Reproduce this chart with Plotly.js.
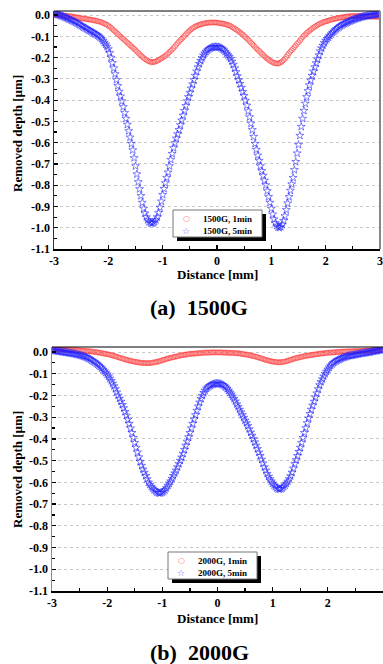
<!DOCTYPE html>
<html><head><meta charset="utf-8">
<script src="https://cdn.plot.ly/plotly-3.0.1.min.js"></script>
<style>html,body{margin:0;padding:0;background:#fff;}#chart{width:383px;height:664px;}</style>
</head><body><div id="chart"></div>
<script>
// Distance sampled from -3 mm to 3 mm in 0.025 mm steps (x0/dx of the traces)
const distStart = -3;
const distStep = 0.025;

const g1500_1min = [
0.000,0.000,0.000,-0.001,-0.001,-0.002,-0.002,-0.003,-0.003,-0.004,-0.005,-0.005,-0.006,-0.007,-0.008,-0.009,-0.010,-0.011,-0.012,-0.014,-0.015,-0.016,-0.017,-0.018,-0.019,-0.020,-0.021,-0.022,-0.023,-0.024,-0.026,-0.027,-0.029,-0.030,-0.032,-0.034,-0.037,-0.040,-0.043,-0.046,-0.050,
-0.055,-0.060,-0.066,-0.072,-0.077,-0.083,-0.089,-0.095,-0.101,-0.107,-0.112,-0.118,-0.124,-0.130,-0.136,-0.142,-0.147,-0.153,-0.159,-0.165,-0.172,-0.178,-0.184,-0.190,-0.196,-0.202,-0.207,-0.211,-0.215,-0.218,-0.220,-0.222,-0.221,-0.220,-0.218,-0.215,-0.212,-0.208,-0.204,-0.200,
-0.196,-0.192,-0.186,-0.180,-0.174,-0.168,-0.162,-0.155,-0.148,-0.140,-0.132,-0.125,-0.118,-0.112,-0.105,-0.098,-0.091,-0.085,-0.078,-0.072,-0.067,-0.062,-0.058,-0.054,-0.051,-0.048,-0.046,-0.044,-0.042,-0.040,-0.039,-0.038,-0.037,-0.036,-0.035,-0.035,-0.035,-0.035,-0.035,-0.036,
-0.037,-0.038,-0.039,-0.040,-0.041,-0.043,-0.045,-0.047,-0.049,-0.052,-0.056,-0.060,-0.064,-0.068,-0.072,-0.077,-0.082,-0.087,-0.092,-0.098,-0.104,-0.110,-0.116,-0.123,-0.130,-0.137,-0.143,-0.150,-0.157,-0.163,-0.169,-0.175,-0.182,-0.188,-0.194,-0.200,-0.205,-0.210,-0.215,-0.219,
-0.222,-0.225,-0.227,-0.228,-0.228,-0.226,-0.222,-0.218,-0.212,-0.205,-0.197,-0.188,-0.180,-0.172,-0.165,-0.158,-0.150,-0.143,-0.135,-0.128,-0.120,-0.112,-0.104,-0.097,-0.091,-0.085,-0.079,-0.074,-0.069,-0.064,-0.059,-0.055,-0.051,-0.047,-0.043,-0.040,-0.037,-0.034,-0.032,-0.030,
-0.028,-0.026,-0.024,-0.022,-0.020,-0.019,-0.017,-0.016,-0.014,-0.013,-0.012,-0.011,-0.010,-0.009,-0.008,-0.007,-0.006,-0.006,-0.005,-0.005,-0.005,-0.005,-0.005,-0.005,-0.005,-0.005,-0.005,-0.006,-0.006,-0.006,-0.006,-0.007,-0.007,-0.007,-0.007,-0.008,-0.008,-0.008,-0.008,-0.008];

const g1500_5min = [
0.008,0.007,0.005,0.003,0.000,-0.003,-0.005,-0.008,-0.010,-0.013,-0.016,-0.019,-0.022,-0.025,-0.028,-0.031,-0.035,-0.038,-0.042,-0.046,-0.050,-0.054,-0.058,-0.061,-0.065,-0.069,-0.073,-0.076,-0.080,-0.084,-0.088,-0.091,-0.095,-0.100,-0.105,-0.112,-0.120,-0.129,-0.138,-0.148,-0.160,
-0.178,-0.200,-0.225,-0.250,-0.277,-0.305,-0.333,-0.360,-0.382,-0.405,-0.432,-0.460,-0.487,-0.515,-0.545,-0.575,-0.605,-0.635,-0.672,-0.710,-0.748,-0.785,-0.818,-0.850,-0.882,-0.910,-0.932,-0.950,-0.963,-0.972,-0.977,-0.980,-0.977,-0.972,-0.963,-0.950,-0.930,-0.905,-0.876,-0.845,
-0.817,-0.790,-0.765,-0.740,-0.710,-0.680,-0.652,-0.625,-0.602,-0.580,-0.560,-0.540,-0.517,-0.495,-0.472,-0.450,-0.427,-0.405,-0.385,-0.365,-0.345,-0.325,-0.305,-0.285,-0.265,-0.245,-0.229,-0.215,-0.202,-0.190,-0.180,-0.172,-0.165,-0.160,-0.156,-0.153,-0.151,-0.150,-0.150,-0.150,
-0.151,-0.152,-0.155,-0.160,-0.165,-0.172,-0.180,-0.188,-0.196,-0.205,-0.218,-0.233,-0.250,-0.268,-0.287,-0.305,-0.323,-0.342,-0.361,-0.380,-0.402,-0.425,-0.452,-0.480,-0.510,-0.540,-0.572,-0.605,-0.633,-0.660,-0.685,-0.710,-0.733,-0.755,-0.778,-0.800,-0.827,-0.855,-0.882,-0.910,
-0.937,-0.960,-0.978,-0.990,-0.997,-1.000,-0.995,-0.985,-0.967,-0.945,-0.916,-0.885,-0.855,-0.825,-0.795,-0.765,-0.728,-0.690,-0.650,-0.610,-0.567,-0.525,-0.487,-0.450,-0.416,-0.385,-0.357,-0.330,-0.307,-0.285,-0.265,-0.245,-0.226,-0.208,-0.189,-0.170,-0.156,-0.143,-0.131,-0.120,
-0.112,-0.105,-0.097,-0.090,-0.083,-0.077,-0.071,-0.065,-0.060,-0.055,-0.051,-0.047,-0.043,-0.040,-0.037,-0.034,-0.031,-0.028,-0.025,-0.023,-0.020,-0.018,-0.016,-0.014,-0.012,-0.010,-0.008,-0.007,-0.005,-0.004,-0.003,-0.002,-0.001,0.000,0.001,0.002,0.003,0.004,0.005,0.005];

const g2000_1min = [
0.012,0.012,0.012,0.012,0.012,0.012,0.011,0.011,0.011,0.011,0.010,0.010,0.010,0.009,0.009,0.009,0.008,0.008,0.008,0.007,0.007,0.006,0.006,0.005,0.005,0.004,0.004,0.003,0.003,0.002,0.001,0.000,-0.001,-0.002,-0.003,-0.004,-0.005,-0.006,-0.008,-0.009,-0.010,
-0.011,-0.013,-0.014,-0.016,-0.018,-0.020,-0.022,-0.024,-0.026,-0.028,-0.030,-0.032,-0.034,-0.036,-0.038,-0.039,-0.041,-0.042,-0.044,-0.045,-0.046,-0.047,-0.048,-0.049,-0.050,-0.050,-0.051,-0.051,-0.051,-0.051,-0.051,-0.050,-0.049,-0.048,-0.047,-0.045,-0.044,-0.042,-0.040,-0.038,
-0.036,-0.034,-0.032,-0.030,-0.028,-0.027,-0.025,-0.024,-0.022,-0.021,-0.019,-0.018,-0.016,-0.015,-0.014,-0.013,-0.012,-0.011,-0.010,-0.009,-0.008,-0.008,-0.007,-0.007,-0.006,-0.006,-0.005,-0.005,-0.004,-0.004,-0.003,-0.003,-0.003,-0.003,-0.002,-0.002,-0.002,-0.002,-0.002,-0.002,
-0.002,-0.002,-0.002,-0.003,-0.003,-0.003,-0.003,-0.004,-0.004,-0.004,-0.004,-0.005,-0.005,-0.006,-0.006,-0.007,-0.008,-0.009,-0.010,-0.011,-0.012,-0.013,-0.014,-0.016,-0.017,-0.019,-0.020,-0.022,-0.024,-0.026,-0.028,-0.030,-0.032,-0.034,-0.036,-0.038,-0.040,-0.041,-0.043,-0.044,
-0.045,-0.046,-0.047,-0.047,-0.047,-0.047,-0.046,-0.045,-0.044,-0.042,-0.040,-0.038,-0.036,-0.034,-0.032,-0.030,-0.028,-0.027,-0.025,-0.024,-0.022,-0.021,-0.019,-0.018,-0.017,-0.016,-0.015,-0.014,-0.013,-0.012,-0.011,-0.010,-0.009,-0.008,-0.007,-0.007,-0.006,-0.005,-0.004,-0.004,
-0.003,-0.003,-0.002,-0.002,-0.001,-0.001,0.000,0.000,0.001,0.001,0.002,0.002,0.002,0.002,0.003,0.003,0.003,0.003,0.004,0.004,0.004,0.004,0.005,0.005,0.005,0.005,0.006,0.006,0.006,0.006,0.007,0.007,0.007,0.008,0.008,0.008,0.009,0.009,0.010,0.010];

const g2000_5min = [
0.008,0.007,0.006,0.005,0.004,0.003,0.002,0.001,0.000,-0.001,-0.002,-0.003,-0.004,-0.005,-0.006,-0.007,-0.008,-0.010,-0.011,-0.013,-0.014,-0.016,-0.018,-0.020,-0.022,-0.025,-0.028,-0.031,-0.035,-0.039,-0.043,-0.047,-0.052,-0.057,-0.062,-0.068,-0.074,-0.081,-0.088,-0.095,-0.103,
-0.112,-0.122,-0.133,-0.145,-0.157,-0.170,-0.185,-0.200,-0.214,-0.228,-0.243,-0.258,-0.275,-0.292,-0.311,-0.330,-0.351,-0.372,-0.395,-0.418,-0.440,-0.462,-0.484,-0.505,-0.523,-0.540,-0.555,-0.570,-0.585,-0.600,-0.610,-0.620,-0.628,-0.635,-0.640,-0.645,-0.648,-0.650,-0.648,-0.645,
-0.641,-0.635,-0.626,-0.615,-0.605,-0.595,-0.583,-0.570,-0.558,-0.545,-0.530,-0.515,-0.500,-0.485,-0.468,-0.450,-0.431,-0.412,-0.392,-0.372,-0.351,-0.330,-0.310,-0.290,-0.270,-0.250,-0.232,-0.215,-0.201,-0.188,-0.177,-0.168,-0.162,-0.157,-0.153,-0.150,-0.148,-0.146,-0.145,-0.145,
-0.146,-0.147,-0.149,-0.152,-0.157,-0.162,-0.169,-0.177,-0.186,-0.195,-0.205,-0.215,-0.227,-0.240,-0.252,-0.265,-0.277,-0.290,-0.302,-0.315,-0.327,-0.340,-0.355,-0.370,-0.385,-0.400,-0.415,-0.430,-0.446,-0.462,-0.478,-0.495,-0.512,-0.530,-0.545,-0.560,-0.573,-0.585,-0.595,-0.605,
-0.613,-0.620,-0.626,-0.630,-0.631,-0.630,-0.626,-0.620,-0.613,-0.605,-0.596,-0.585,-0.571,-0.555,-0.536,-0.515,-0.497,-0.478,-0.459,-0.440,-0.418,-0.395,-0.372,-0.350,-0.327,-0.305,-0.285,-0.265,-0.246,-0.228,-0.209,-0.190,-0.171,-0.152,-0.138,-0.125,-0.112,-0.100,-0.090,-0.080,
-0.071,-0.063,-0.056,-0.050,-0.046,-0.042,-0.038,-0.035,-0.032,-0.029,-0.026,-0.024,-0.022,-0.020,-0.018,-0.017,-0.016,-0.015,-0.013,-0.012,-0.011,-0.010,-0.008,-0.007,-0.006,-0.005,-0.004,-0.003,-0.002,-0.001,0.000,0.002,0.003,0.004,0.005,0.006,0.008,0.009,0.010,0.012];

const seriesNames = ['1500G, 1min', '1500G, 5min', '2000G, 1min', '2000G, 5min'];
const captions = ['(a)  1500G', '(b)  2000G'];
const xTitle = 'Distance [mm]';
const yTitle = 'Removed depth [µm]';
const xTickVals = [-3,-2,-1,0,1,2,3];
const xTickText = ['-3','-2','-1','0','1','2','3'];
const yTickVals = [0,-0.1,-0.2,-0.3,-0.4,-0.5,-0.6,-0.7,-0.8,-0.9,-1.0,-1.1];
const yTickText = ['0.0','-0.1','-0.2','-0.3','-0.4','-0.5','-0.6','-0.7','-0.8','-0.9','-1.0','-1.1'];

const W = 383, H = 664;
const px = v => v / W;
const py = v => 1 - v / H;
const serif = 'Liberation Serif, Times New Roman, serif';
const tickFont = {family: serif, size: 12, color: '#000', weight: 'bold'};
const RED = 'rgba(255,50,50,0.75)';
const BLUE = 'rgba(30,30,255,0.8)';

const redMarker = {symbol: 'circle-open', size: 5, color: RED, line: {width: 0.7}};
const blueMarker = {symbol: 'star-open', size: 6, color: BLUE, line: {width: 0.7}};

const traces = [
  {x0: distStart, dx: distStep, y: g1500_1min, mode: 'markers', name: seriesNames[0], marker: redMarker, xaxis: 'x', yaxis: 'y'},
  {x0: distStart, dx: distStep, y: g1500_5min, mode: 'markers', name: seriesNames[1], marker: blueMarker, xaxis: 'x', yaxis: 'y'},
  {x0: distStart, dx: distStep, y: g2000_1min, mode: 'markers', name: seriesNames[2], marker: redMarker, xaxis: 'x2', yaxis: 'y2'},
  {x0: distStart, dx: distStep, y: g2000_5min, mode: 'markers', name: seriesNames[3], marker: blueMarker, xaxis: 'x2', yaxis: 'y2'}
];

function xAx(dom, anchor) {
  return {domain: dom, anchor: anchor, range: [-3, 3], tickmode: 'array', tickvals: xTickVals, ticktext: xTickText,
    ticks: 'inside', ticklen: 4, tickwidth: 1.2, tickcolor: '#000',
    minor: {tickmode: 'linear', tick0: -3, dtick: 0.5, ticks: 'inside', ticklen: 3, tickcolor: '#000', showgrid: false},
    showline: true, linecolor: '#000', linewidth: 2, showgrid: false, zeroline: false, tickfont: tickFont, fixedrange: true};
}
function yAx(dom, anchor, top, lc) {
  return {domain: dom, anchor: anchor, range: [-1.1, top], tickmode: 'array', tickvals: yTickVals, ticktext: yTickText,
    ticks: 'inside', ticklen: 4, tickwidth: 1.2, tickcolor: '#000',
    minor: {tickmode: 'linear', tick0: 0, dtick: 0.05, ticks: 'inside', ticklen: 3, tickcolor: '#000', showgrid: false},
    showline: true, linecolor: lc, linewidth: 1.5, showgrid: true, gridcolor: '#c8c8c8', griddash: 'dot', gridwidth: 1,
    zeroline: false, tickfont: tickFont, fixedrange: true};
}

const bold = (sz, c) => ({family: serif, size: sz, color: c || '#000', weight: 'bold'});
function ann(text, x, y, font, extra) {
  return Object.assign({text: text, xref: 'paper', yref: 'paper', x: px(x), y: py(y), xanchor: 'center', yanchor: 'middle', showarrow: false, font: font}, extra || {});
}
// custom legend boxes (box left, top, right, bottom in px)
function legendParts(l, t, r, b, n1, n2) {
  const shapes = [
    {type: 'rect', xref: 'paper', yref: 'paper', x0: px(l + 4), x1: px(r + 4), y0: py(b + 4), y1: py(t + 4), fillcolor: '#000', line: {width: 0}, layer: 'above'},
    {type: 'rect', xref: 'paper', yref: 'paper', x0: px(l), x1: px(r), y0: py(b), y1: py(t), fillcolor: '#fff', line: {color: '#777', width: 1}, layer: 'above'}
  ];
  const r1 = t + (b - t) * 0.32, r2 = t + (b - t) * 0.76;
  const anns = [
    ann('○', l + 13, r1, {family: 'DejaVu Sans', size: 8, color: RED}),
    ann('☆', l + 13, r2, {family: 'DejaVu Sans', size: 9, color: BLUE}),
    ann(n1, l + 28, r1, bold(9), {xanchor: 'left'}),
    ann(n2, l + 28, r2, bold(9), {xanchor: 'left'})
  ];
  return {shapes, anns};
}
const leg1 = legendParts(173, 210, 262, 237, seriesNames[0], seriesNames[1]);
const leg2 = legendParts(168, 552, 257, 579, seriesNames[2], seriesNames[3]);

const layout = {
  width: W, height: H, margin: {l: 0, r: 0, t: 0, b: 0}, paper_bgcolor: '#fff', plot_bgcolor: '#fff',
  showlegend: false,
  xaxis: xAx([px(54), px(380)], 'y'),
  yaxis: yAx([1 - 249 / H, 1 - 11 / H], 'x', 0.019, '#333'),
  xaxis2: xAx([px(52), 1], 'y2'),
  yaxis2: yAx([1 - 591 / H, 1 - 347 / H], 'x2', 0.023, '#888'),
  shapes: [
    {type: 'line', xref: 'x domain', yref: 'y domain', x0: 0, x1: 1, y0: 1, y1: 1, line: {color: '#000', width: 1}},
    {type: 'line', xref: 'x domain', yref: 'y domain', x0: 1, x1: 1, y0: 0, y1: 1, line: {color: '#888', width: 2}},
    {type: 'line', xref: 'x2 domain', yref: 'y2 domain', x0: 0, x1: 1, y0: 1, y1: 1, line: {color: '#000', width: 1}}
  ].concat(leg1.shapes, leg2.shapes),
  annotations: [
    ann(xTitle, 217, 274, bold(13)),
    ann(xTitle, 217, 618, bold(13)),
    ann(yTitle, 17, 134, bold(13), {textangle: -90}),
    ann(yTitle, 17, 470, bold(13), {textangle: -90}),
    ann(captions[0], 199, 307, bold(22)),
    ann(captions[1], 199, 652, bold(22))
  ].concat(leg1.anns, leg2.anns)
};

Plotly.newPlot('chart', traces, layout, {staticPlot: true, displayModeBar: false});
</script></body></html>
